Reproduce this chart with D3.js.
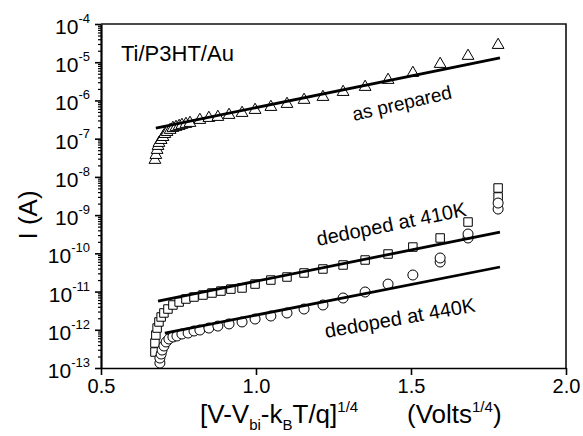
<!DOCTYPE html>
<html>
<head>
<meta charset="utf-8">
<script src="https://cdn.jsdelivr.net/npm/d3@7"></script>
<style>
  body { margin: 0; background: #fff; }
  text { font-family: "Liberation Sans", Arial, sans-serif; fill: #000; }
</style>
</head>
<body>
<script>
// tick values
var xTicks = [0.5, 1.0, 1.5, 2.0];
var xTickLabels = ["0.5", "1.0", "1.5", "2.0"];
var yExponents = [-13, -12, -11, -10, -9, -8, -7, -6, -5, -4];

// as prepared (triangles)
var prepX = [0.674, 0.677, 0.681, 0.684, 0.687, 0.694, 0.700, 0.706, 0.713, 0.723, 0.732, 0.742, 0.752, 0.761, 0.774, 0.787,
             0.819, 0.848, 0.877, 0.913, 0.955, 0.997, 1.048, 1.100, 1.155, 1.216, 1.281, 1.352, 1.426, 1.506, 1.594, 1.684, 1.781];
var prepI = [2.77e-8, 3.73e-8, 5.05e-8, 6.43e-8, 7.7e-8, 9.2e-8, 1.10e-7, 1.32e-7, 1.49e-7, 1.69e-7, 1.90e-7, 2.02e-7, 2.14e-7, 2.28e-7, 2.42e-7, 2.57e-7,
             3.08e-7, 3.47e-7, 3.69e-7, 4.16e-7, 4.69e-7, 5.62e-7, 6.73e-7, 8.07e-7, 1.03e-6, 1.23e-6, 1.66e-6, 2.25e-6, 3.43e-6, 5.22e-6, 8.98e-6, 1.46e-5, 2.82e-5];

// dedoped at 410K (squares)
var d410X = [0.674, 0.674, 0.677, 0.681, 0.687, 0.694, 0.703, 0.716, 0.732, 0.752, 0.774, 0.800, 0.829, 0.858, 0.887, 0.919,
             0.955, 0.997, 1.048, 1.100, 1.155, 1.216, 1.281, 1.352, 1.426, 1.506, 1.594, 1.684, 1.781, 1.781];
var d410I = [2.62e-13, 4.51e-13, 7.30e-13, 1.11e-12, 1.60e-12, 2.16e-12, 2.75e-12, 3.49e-12, 4.45e-12, 5.32e-12, 6.38e-12, 7.19e-12, 8.11e-12, 9.16e-12, 1.03e-11, 1.16e-11,
             1.24e-11, 1.57e-11, 2.00e-11, 2.40e-11, 3.06e-11, 3.89e-11, 4.95e-11, 6.69e-11, 9.6e-11, 1.46e-10, 2.52e-10, 6.59e-10, 2.98e-9, 5.12e-9];

// dedoped at 440K (circles)
var d440X = [0.690, 0.690, 0.694, 0.697, 0.703, 0.710, 0.719, 0.732, 0.745, 0.761, 0.781, 0.800, 0.819, 0.848, 0.877, 0.913,
             0.955, 0.997, 1.048, 1.100, 1.155, 1.216, 1.281, 1.352, 1.426, 1.506, 1.594, 1.594, 1.684, 1.684, 1.781, 1.781];
var d440I = [1.35e-13, 1.82e-13, 2.32e-13, 2.95e-13, 3.76e-13, 4.79e-13, 5.73e-13, 6.47e-13, 6.87e-13, 7.74e-13, 8.22e-13, 9.29e-13, 9.86e-13, 1.11e-12, 1.25e-12, 1.42e-12,
             1.60e-12, 1.91e-12, 2.29e-12, 2.75e-12, 3.49e-12, 4.45e-12, 6.78e-12, 9.73e-12, 1.57e-11, 2.71e-11, 5.93e-11, 7.55e-11, 2.52e-10, 3.20e-10, 1.44e-9, 2.07e-9];

// fitted straight lines (end points)
var fitPrepX = [0.677, 1.787], fitPrepI = [1.90e-7, 1.29e-5];
var fit410X = [0.684, 1.787], fit410I = [5.66e-12, 3.61e-10];
var fit440X = [0.706, 1.787], fit440I = [8.22e-13, 4.39e-11];

var w = 583, h = 436;
var pLeft = 101, pRight = 566, pTop = 24, pBottom = 368;

var svg = d3.select("body").append("svg")
            .attr("width", w)
            .attr("height", h);

var x = d3.scaleLinear().domain([0.5, 2.0]).range([pLeft, pRight]);
var y = d3.scaleLog().domain([1e-13, 1e-4]).range([pBottom, pTop]);

function zipped(xs, ys) {
    return xs.map(function(v, i) { return [v, ys[i]]; });
}

// frame (top & right)
svg.append("path")
   .attr("d", "M" + pLeft + "," + pTop + "H" + pRight + "V" + pBottom)
   .attr("fill", "none")
   .attr("stroke", "#111")
   .attr("stroke-width", 1.6);

// minor y ticks
var minors = [];
yExponents.forEach(function(e) {
    if (e === -4) return;
    for (var m = 2; m <= 9; m++) minors.push(m * Math.pow(10, e));
});
svg.append("g")
   .attr("transform", "translate(" + pLeft + ",0)")
   .call(d3.axisLeft(y).tickValues(minors).tickSize(3).tickFormat(""))
   .call(function(g) { g.select(".domain").remove(); })
   .selectAll("line").attr("stroke-width", 1.2);

// major y axis
var yAxisG = svg.append("g")
   .attr("transform", "translate(" + pLeft + ",0)")
   .call(d3.axisLeft(y)
           .tickValues(yExponents.map(function(e) { return Math.pow(10, e); }))
           .tickSize(6).tickSizeOuter(0).tickPadding(5));
yAxisG.select(".domain").attr("stroke-width", 2.2);
yAxisG.selectAll("line").attr("stroke-width", 1.6);
yAxisG.selectAll(".tick text")
   .attr("font-size", 21)
   .attr("dy", "0.45em")
   .each(function(d) {
       var t = d3.select(this);
       var e = Math.round(Math.log10(d));
       t.text(null);
       t.append("tspan").text("10");
       t.append("tspan").attr("font-size", 13).attr("dy", -11).text(e);
   });

// x axis
var xAxisG = svg.append("g")
   .attr("transform", "translate(0," + pBottom + ")")
   .call(d3.axisBottom(x).tickValues(xTicks).tickSize(7).tickSizeOuter(0).tickPadding(4)
           .tickFormat(function(d, i) { return xTickLabels[i]; }));
xAxisG.select(".domain").attr("stroke-width", 1.6);
xAxisG.selectAll("line").attr("stroke-width", 1.6);
xAxisG.selectAll(".tick text").attr("font-size", 20);

// markers
svg.append("g").selectAll("path")
   .data(zipped(prepX, prepI))
   .enter()
   .append("path")
   .attr("d", d3.symbol(d3.symbolTriangle, 60))
   .attr("transform", function(d) { return "translate(" + x(d[0]) + "," + y(d[1]) + ")"; })
   .attr("fill", "#fff")
   .attr("stroke", "#000")
   .attr("stroke-width", 1);

svg.append("g").selectAll("path")
   .data(zipped(d410X, d410I))
   .enter()
   .append("path")
   .attr("d", d3.symbol(d3.symbolSquare, 72))
   .attr("transform", function(d) { return "translate(" + x(d[0]) + "," + y(d[1]) + ")"; })
   .attr("fill", "#fff")
   .attr("stroke", "#000")
   .attr("stroke-width", 1);

svg.append("g").selectAll("circle")
   .data(zipped(d440X, d440I))
   .enter()
   .append("circle")
   .attr("cx", function(d) { return x(d[0]); })
   .attr("cy", function(d) { return y(d[1]); })
   .attr("r", 5)
   .attr("fill", "#fff")
   .attr("stroke", "#000")
   .attr("stroke-width", 1);

// fit lines
var line = d3.line()
             .x(function(d) { return x(d[0]); })
             .y(function(d) { return y(d[1]); });

[[fitPrepX, fitPrepI], [fit410X, fit410I], [fit440X, fit440I]].forEach(function(f) {
    svg.append("path")
       .attr("d", line(zipped(f[0], f[1])))
       .attr("fill", "none")
       .attr("stroke", "#000")
       .attr("stroke-width", 2.8);
});

// labels
svg.append("text")
   .attr("x", 121).attr("y", 61)
   .attr("font-size", 22)
   .text("Ti/P3HT/Au");

svg.append("text")
   .attr("transform", "translate(354,121) rotate(-13)")
   .attr("font-size", 19)
   .text("as prepared");

svg.append("text")
   .attr("transform", "translate(318,246) rotate(-11.5)")
   .attr("font-size", 20)
   .text("dedoped at 410K");

svg.append("text")
   .attr("transform", "translate(326,338) rotate(-10)")
   .attr("font-size", 20)
   .text("dedoped at 440K");

// axis titles
svg.append("text")
   .attr("transform", "translate(37,215) rotate(-90)")
   .attr("text-anchor", "middle")
   .attr("font-size", 26)
   .text("I (A)");

var xt = svg.append("text")
   .attr("x", 200).attr("y", 423)
   .attr("font-size", 26);
xt.append("tspan").text("[V-V");
xt.append("tspan").attr("font-size", 15).attr("dy", 7).text("bi");
xt.append("tspan").attr("dy", -7).text("-k");
xt.append("tspan").attr("font-size", 15).attr("dy", 7).text("B");
xt.append("tspan").attr("dy", -7).text("T/q]");
xt.append("tspan").attr("font-size", 15).attr("dy", -11).text("1/4");
xt.append("tspan").attr("x", 407).attr("dy", 11).text("(Volts");
xt.append("tspan").attr("font-size", 15).attr("dy", -11).text("1/4");
xt.append("tspan").attr("dy", 11).text(")");
</script>
</body>
</html>
